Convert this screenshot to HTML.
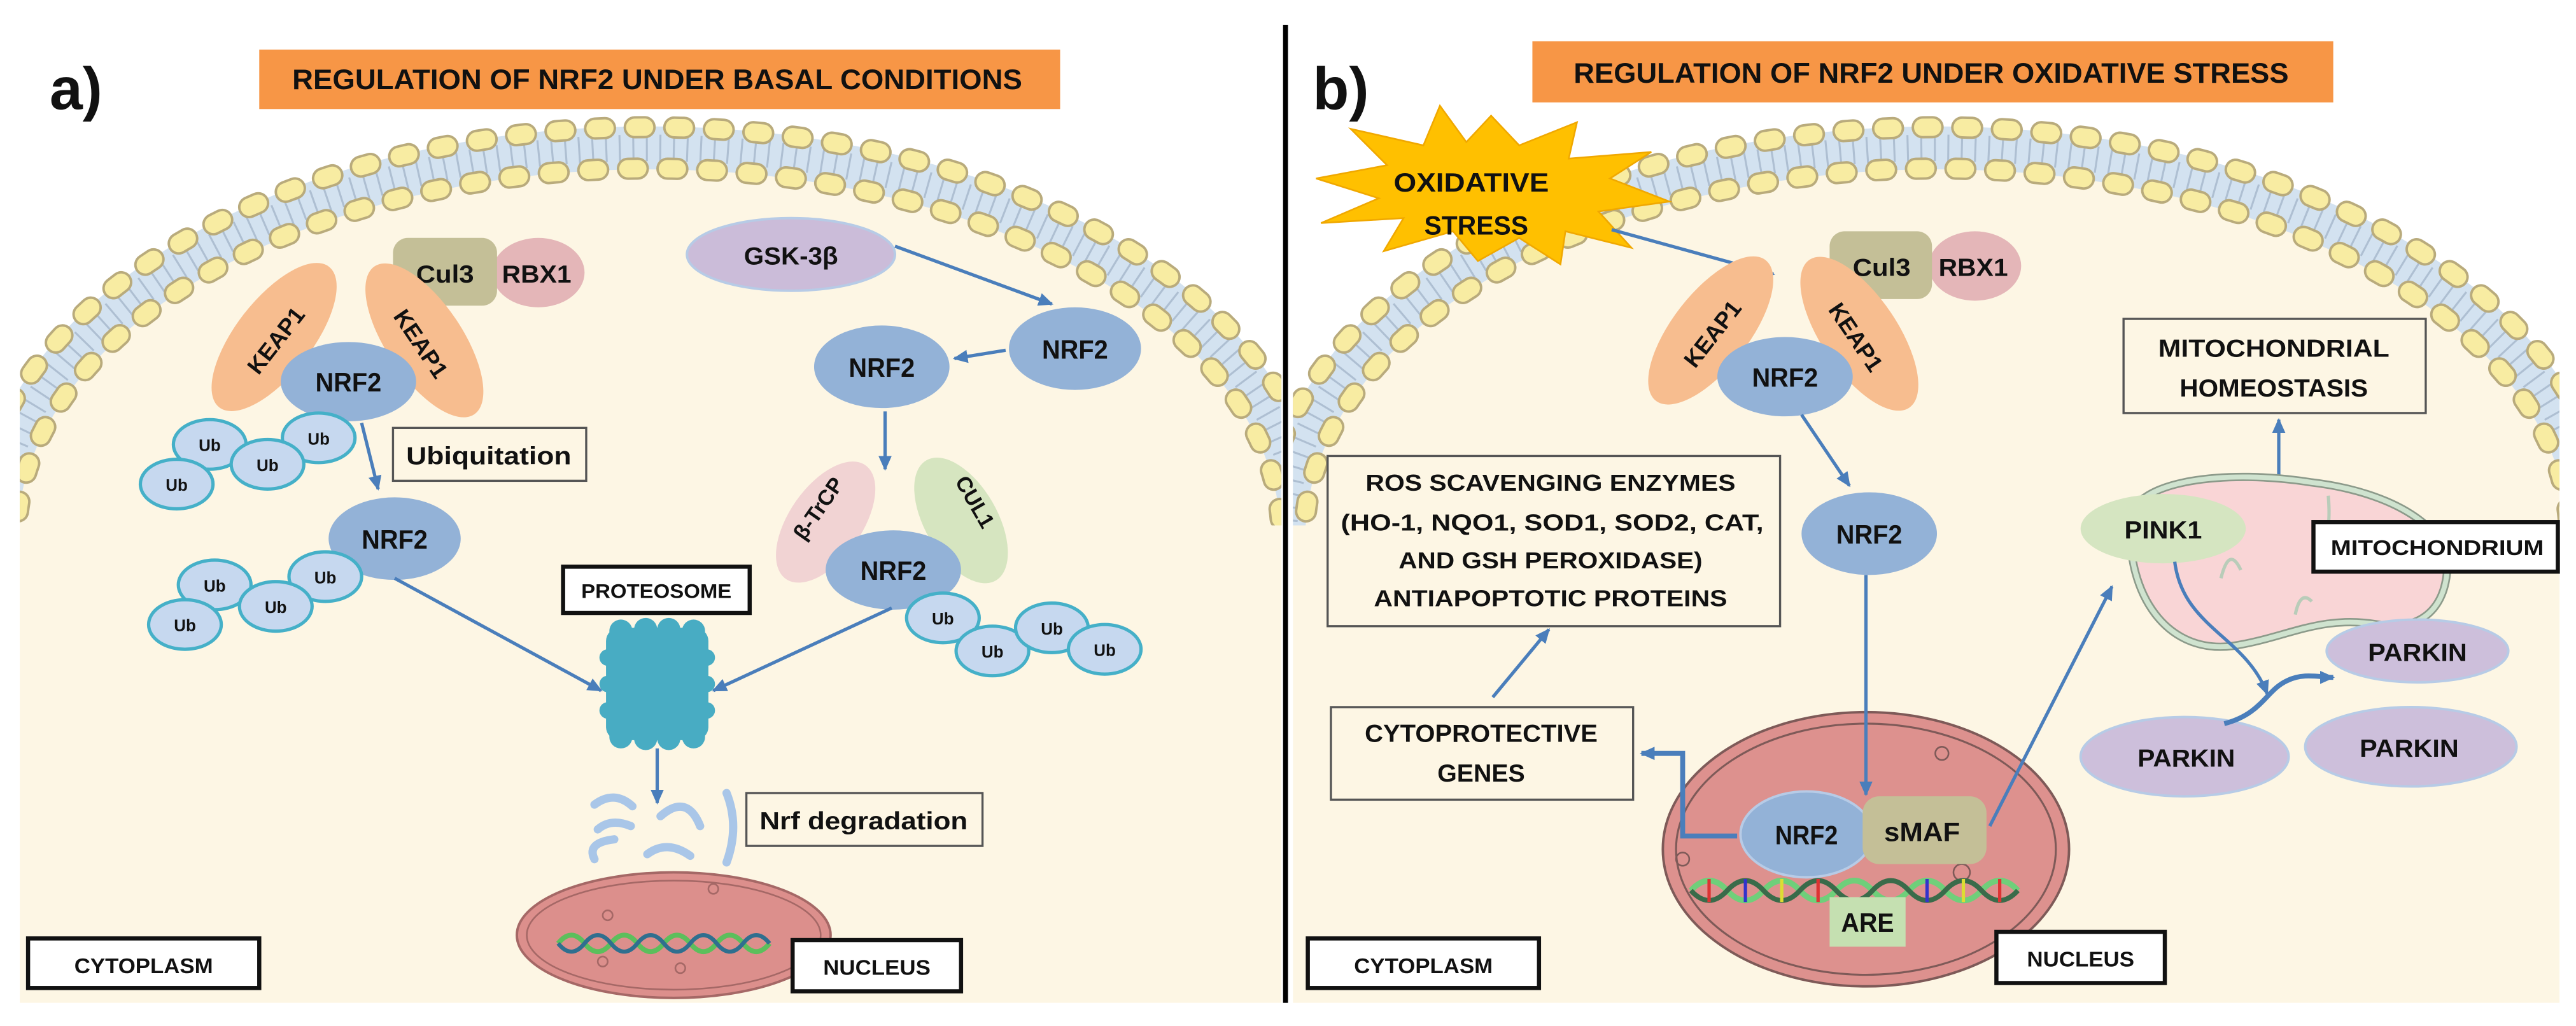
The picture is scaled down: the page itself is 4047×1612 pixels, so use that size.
<!DOCTYPE html>
<html><head><meta charset="utf-8"><style>
html,body{margin:0;padding:0;background:#fff;}
svg{display:block;}
text{font-family:"Liberation Sans",sans-serif;font-weight:bold;fill:#111;}
</style></head><body>
<svg width="4047" height="1612" viewBox="0 0 1560 621" preserveAspectRatio="none" xmlns="http://www.w3.org/2000/svg">
<defs>
<marker id="ah" markerUnits="userSpaceOnUse" markerWidth="10" markerHeight="10" refX="8" refY="5" orient="auto">
<path d="M0,1 L9,5 L0,9 Z" fill="#4a7ebb"/></marker>
<clipPath id="ca"><rect x="12" y="0" width="764" height="607"/></clipPath>
<clipPath id="cb"><rect x="783" y="0" width="767" height="607"/></clipPath>
<clipPath id="ma"><rect x="12" y="0" width="764" height="318"/></clipPath>
<clipPath id="mb"><rect x="783" y="0" width="767" height="318"/></clipPath>
</defs>
<rect width="1560" height="621" fill="#fff"/>

<!-- ============ PANEL A ============ -->
<g clip-path="url(#ca)">
<ellipse cx="393" cy="325" rx="396" ry="236" fill="#fdf6e4"/>
<rect x="0" y="325" width="800" height="290" fill="#fdf6e4"/>
</g>
<g clip-path="url(#ma)" fill="none">
<ellipse cx="393" cy="325" rx="395.5" ry="235.5" stroke="#d3e2f0" stroke-width="26"/>
<ellipse cx="393" cy="325" rx="395.5" ry="235.5" stroke="#aebfd2" stroke-width="16" stroke-dasharray="1.2 7"/>
<ellipse cx="393" cy="325" rx="408" ry="248" stroke="#b9ab7c" stroke-width="13.5" stroke-dasharray="6 18" stroke-linecap="round"/>
<ellipse cx="393" cy="325" rx="408" ry="248" stroke="#f8eca2" stroke-width="10.5" stroke-dasharray="6 18" stroke-linecap="round"/>
<ellipse cx="393" cy="325" rx="383" ry="223" stroke="#b9ab7c" stroke-width="13.5" stroke-dasharray="6 18" stroke-linecap="round"/>
<ellipse cx="393" cy="325" rx="383" ry="223" stroke="#f8eca2" stroke-width="10.5" stroke-dasharray="6 18" stroke-linecap="round"/>
</g>

<text x="30" y="66" font-size="36">a)</text>
<rect x="157" y="30" width="485" height="36" fill="#f79646"/>
<text x="177" y="54" font-size="17" textLength="442" lengthAdjust="spacingAndGlyphs">REGULATION OF NRF2 UNDER BASAL CONDITIONS</text>

<ellipse cx="326" cy="165" rx="28" ry="21" fill="#e4b6b8"/>
<rect x="238" y="144" width="63" height="41" rx="9" fill="#c4bf97"/>
<text x="252" y="171" font-size="15" textLength="35" lengthAdjust="spacingAndGlyphs">Cul3</text>
<text x="304" y="171" font-size="15" textLength="42" lengthAdjust="spacingAndGlyphs">RBX1</text>
<ellipse cx="166" cy="204" rx="54" ry="23" transform="rotate(-52 166 204)" fill="#f7bd8f"/>
<ellipse cx="257" cy="206" rx="54" ry="23" transform="rotate(56 257 206)" fill="#f7bd8f"/>
<text x="167" y="211" font-size="14" text-anchor="middle" transform="rotate(-52 167 206)">KEAP1</text>
<text x="255" y="213" font-size="14" text-anchor="middle" transform="rotate(56 255 208)">KEAP1</text>
<ellipse cx="211" cy="231" rx="41" ry="24" fill="#93b2d7"/>
<text x="211" y="237" font-size="16" text-anchor="middle" textLength="40" lengthAdjust="spacingAndGlyphs">NRF2</text>
<g fill="#c6d8ef" stroke="#45b0c8" stroke-width="2">
<ellipse cx="127" cy="269" rx="22" ry="15"/><ellipse cx="193" cy="265" rx="22" ry="15"/><ellipse cx="162" cy="281" rx="22" ry="15"/><ellipse cx="107" cy="293" rx="22" ry="15"/>
</g>
<g font-size="10" text-anchor="middle"><text x="127" y="273">Ub</text><text x="193" y="269">Ub</text><text x="162" y="285">Ub</text><text x="107" y="297">Ub</text></g>
<rect x="238" y="259" width="117" height="32" fill="#fdf6e4" stroke="#555" stroke-width="1.3"/>
<text x="246" y="281" font-size="15" textLength="100" lengthAdjust="spacingAndGlyphs">Ubiquitation</text>
<line x1="219" y1="256" x2="229" y2="296" stroke="#4a7ebb" stroke-width="2" marker-end="url(#ah)"/>
<ellipse cx="239" cy="326" rx="40" ry="25" fill="#93b2d7"/>
<text x="239" y="332" font-size="16" text-anchor="middle" textLength="40" lengthAdjust="spacingAndGlyphs">NRF2</text>
<g fill="#c6d8ef" stroke="#45b0c8" stroke-width="2">
<ellipse cx="130" cy="354" rx="22" ry="15"/><ellipse cx="197" cy="349" rx="22" ry="15"/><ellipse cx="167" cy="367" rx="22" ry="15"/><ellipse cx="112" cy="378" rx="22" ry="15"/>
</g>
<g font-size="10" text-anchor="middle"><text x="130" y="358">Ub</text><text x="197" y="353">Ub</text><text x="167" y="371">Ub</text><text x="112" y="382">Ub</text></g>
<line x1="239" y1="350" x2="364" y2="418" stroke="#4a7ebb" stroke-width="2" marker-end="url(#ah)"/>
<ellipse cx="479" cy="154" rx="63" ry="22" fill="#cbbcd9" stroke="#b7cbe6" stroke-width="1.5"/>
<text x="479" y="160" font-size="15" text-anchor="middle" textLength="57" lengthAdjust="spacingAndGlyphs">GSK-3β</text>
<line x1="542" y1="149" x2="637" y2="184" stroke="#4a7ebb" stroke-width="2" marker-end="url(#ah)"/>
<ellipse cx="651" cy="211" rx="40" ry="25" fill="#93b2d7"/>
<text x="651" y="217" font-size="16" text-anchor="middle" textLength="40" lengthAdjust="spacingAndGlyphs">NRF2</text>
<line x1="609" y1="212" x2="578" y2="217" stroke="#4a7ebb" stroke-width="2" marker-end="url(#ah)"/>
<ellipse cx="534" cy="222" rx="41" ry="25" fill="#93b2d7"/>
<text x="534" y="228" font-size="16" text-anchor="middle" textLength="40" lengthAdjust="spacingAndGlyphs">NRF2</text>
<line x1="536" y1="249" x2="536" y2="284" stroke="#4a7ebb" stroke-width="2" marker-end="url(#ah)"/>
<ellipse cx="500" cy="316" rx="42" ry="22" transform="rotate(-55 500 316)" fill="#f1d3d3"/>
<ellipse cx="582" cy="315" rx="42" ry="22" transform="rotate(60 582 315)" fill="#d6e5c0"/>
<text x="496" y="312" font-size="13" text-anchor="middle" transform="rotate(-55 496 308)">β-TrCP</text>
<text x="590" y="308" font-size="13" text-anchor="middle" transform="rotate(60 590 304)">CUL1</text>
<ellipse cx="541" cy="345" rx="41" ry="24" fill="#93b2d7"/>
<text x="541" y="351" font-size="16" text-anchor="middle" textLength="40" lengthAdjust="spacingAndGlyphs">NRF2</text>
<g fill="#c6d8ef" stroke="#45b0c8" stroke-width="2">
<ellipse cx="571" cy="374" rx="22" ry="15"/><ellipse cx="601" cy="394" rx="22" ry="15"/><ellipse cx="637" cy="380" rx="22" ry="15"/><ellipse cx="669" cy="393" rx="22" ry="15"/>
</g>
<g font-size="10" text-anchor="middle"><text x="571" y="378">Ub</text><text x="601" y="398">Ub</text><text x="637" y="384">Ub</text><text x="669" y="397">Ub</text></g>
<line x1="540" y1="368" x2="432" y2="418" stroke="#4a7ebb" stroke-width="2" marker-end="url(#ah)"/>
<rect x="341" y="343" width="113" height="28" fill="#fff" stroke="#111" stroke-width="2.5"/>
<text x="397.5" y="362" font-size="12" text-anchor="middle" textLength="91" lengthAdjust="spacingAndGlyphs">PROTEOSOME</text>
<g fill="#48acc3">
<rect x="367" y="380" width="62" height="68" rx="8"/>
<circle cx="376" cy="382" r="7"/><circle cx="391" cy="381" r="7"/><circle cx="405" cy="381" r="7"/><circle cx="420" cy="382" r="7"/>
<circle cx="376" cy="446" r="7"/><circle cx="391" cy="447" r="7"/><circle cx="405" cy="447" r="7"/><circle cx="420" cy="446" r="7"/>
<circle cx="368" cy="398" r="5"/><circle cx="368" cy="414" r="5"/><circle cx="368" cy="430" r="5"/>
<circle cx="428" cy="398" r="5"/><circle cx="428" cy="414" r="5"/><circle cx="428" cy="430" r="5"/>
</g>
<line x1="398" y1="453" x2="398" y2="486" stroke="#4a7ebb" stroke-width="2" marker-end="url(#ah)"/>
<g fill="none" stroke="#a9c6e8" stroke-width="5" stroke-linecap="round">
<path d="M360,487 Q372,478 383,488"/><path d="M362,502 Q370,495 382,500"/><path d="M360,520 Q355,510 372,508"/>
<path d="M392,517 Q404,508 418,518"/><path d="M400,494 Q416,480 424,500"/><path d="M440,480 Q448,500 440,522"/>
</g>
<rect x="452" y="480" width="143" height="32" fill="#fdf6e4" stroke="#555" stroke-width="1.3"/>
<text x="460" y="502" font-size="15" textLength="126" lengthAdjust="spacingAndGlyphs">Nrf degradation</text>
<ellipse cx="408" cy="566" rx="95" ry="38" fill="#dc8f8c" stroke="#a56866" stroke-width="1.5"/>
<ellipse cx="408" cy="566" rx="89" ry="33" fill="none" stroke="#a56866" stroke-width="1"/>
<g fill="none" stroke="#a56866" stroke-width="1"><circle cx="368" cy="554" r="3"/><circle cx="412" cy="586" r="3"/><circle cx="365" cy="582" r="3"/><circle cx="432" cy="538" r="3"/></g>
<path d="M338,571 q8,-10 16,0 t16,0 t16,0 t16,0 t16,0 t16,0 t16,0 t16,0" fill="none" stroke="#5cbf5c" stroke-width="3"/>
<path d="M338,571 q8,10 16,0 t16,0 t16,0 t16,0 t16,0 t16,0 t16,0 t16,0" fill="none" stroke="#2f6f8f" stroke-width="2.5"/>
<rect x="480" y="569" width="102" height="31" fill="#fff" stroke="#111" stroke-width="2.5"/>
<text x="531" y="590" font-size="13" text-anchor="middle" textLength="65" lengthAdjust="spacingAndGlyphs">NUCLEUS</text>
<rect x="17" y="568" width="140" height="30" fill="#fff" stroke="#111" stroke-width="2.5"/>
<text x="87" y="589" font-size="13" text-anchor="middle" textLength="84" lengthAdjust="spacingAndGlyphs">CYTOPLASM</text>

<rect x="777" y="15" width="3" height="592" fill="#000"/>

<!-- ============ PANEL B ============ -->
<g clip-path="url(#cb)">
<ellipse cx="1173" cy="325" rx="396" ry="236" fill="#fdf6e4"/>
<rect x="780" y="325" width="800" height="290" fill="#fdf6e4"/>
</g>
<g clip-path="url(#mb)" fill="none">
<ellipse cx="1173" cy="325" rx="395.5" ry="235.5" stroke="#d3e2f0" stroke-width="26"/>
<ellipse cx="1173" cy="325" rx="395.5" ry="235.5" stroke="#aebfd2" stroke-width="16" stroke-dasharray="1.2 7"/>
<ellipse cx="1173" cy="325" rx="408" ry="248" stroke="#b9ab7c" stroke-width="13.5" stroke-dasharray="6 18" stroke-linecap="round"/>
<ellipse cx="1173" cy="325" rx="408" ry="248" stroke="#f8eca2" stroke-width="10.5" stroke-dasharray="6 18" stroke-linecap="round"/>
<ellipse cx="1173" cy="325" rx="383" ry="223" stroke="#b9ab7c" stroke-width="13.5" stroke-dasharray="6 18" stroke-linecap="round"/>
<ellipse cx="1173" cy="325" rx="383" ry="223" stroke="#f8eca2" stroke-width="10.5" stroke-dasharray="6 18" stroke-linecap="round"/>
</g>

<text x="795" y="66" font-size="36">b)</text>
<rect x="928" y="25" width="485" height="37" fill="#f79646"/>
<text x="953" y="50" font-size="17" textLength="433" lengthAdjust="spacingAndGlyphs">REGULATION OF NRF2 UNDER OXIDATIVE STRESS</text>

<polygon points="903,70 920,88 955,74 950,96 1000,92 975,108 1011,122 968,128 988,150 948,140 945,160 920,144 895,158 880,140 838,152 850,132 800,135 835,120 797,108 840,100 818,78 862,88 872,64 888,86" fill="#ffc000" stroke="#f0a800" stroke-width="1"/>
<text x="891" y="116" font-size="16" text-anchor="middle" textLength="94" lengthAdjust="spacingAndGlyphs">OXIDATIVE</text>
<text x="894" y="142" font-size="16" text-anchor="middle" textLength="63" lengthAdjust="spacingAndGlyphs">STRESS</text>
<line x1="976" y1="139" x2="1074" y2="166" stroke="#4a7ebb" stroke-width="2" marker-end="url(#ah)"/>

<ellipse cx="1196" cy="161" rx="28" ry="21" fill="#e4b6b8"/>
<rect x="1108" y="140" width="62" height="41" rx="9" fill="#c4bf97"/>
<text x="1122" y="167" font-size="15" textLength="35" lengthAdjust="spacingAndGlyphs">Cul3</text>
<text x="1174" y="167" font-size="15" textLength="42" lengthAdjust="spacingAndGlyphs">RBX1</text>
<ellipse cx="1036" cy="200" rx="54" ry="23" transform="rotate(-52 1036 200)" fill="#f7bd8f"/>
<ellipse cx="1126" cy="202" rx="54" ry="23" transform="rotate(56 1126 202)" fill="#f7bd8f"/>
<text x="1037" y="207" font-size="14" text-anchor="middle" transform="rotate(-52 1037 202)">KEAP1</text>
<text x="1124" y="209" font-size="14" text-anchor="middle" transform="rotate(56 1124 204)">KEAP1</text>
<ellipse cx="1081" cy="228" rx="41" ry="24" fill="#93b2d7"/>
<text x="1081" y="234" font-size="16" text-anchor="middle" textLength="40" lengthAdjust="spacingAndGlyphs">NRF2</text>
<line x1="1091" y1="251" x2="1120" y2="294" stroke="#4a7ebb" stroke-width="2" marker-end="url(#ah)"/>
<ellipse cx="1132" cy="323" rx="41" ry="25" fill="#93b2d7"/>
<text x="1132" y="329" font-size="16" text-anchor="middle" textLength="40" lengthAdjust="spacingAndGlyphs">NRF2</text>

<rect x="1286" y="193" width="183" height="57" fill="#fdf6e4" stroke="#555" stroke-width="1.3"/>
<text x="1377" y="216" font-size="15" text-anchor="middle" textLength="140" lengthAdjust="spacingAndGlyphs">MITOCHONDRIAL</text>
<text x="1377" y="240" font-size="15" text-anchor="middle" textLength="114" lengthAdjust="spacingAndGlyphs">HOMEOSTASIS</text>
<line x1="1380" y1="291" x2="1380" y2="254" stroke="#4a7ebb" stroke-width="2" marker-end="url(#ah)"/>
<rect x="804" y="276" width="274" height="103" fill="#fdf6e4" stroke="#555" stroke-width="1.3"/>
<g font-size="14" text-anchor="middle">
<text x="939" y="297" textLength="224" lengthAdjust="spacingAndGlyphs">ROS SCAVENGING ENZYMES</text>
<text x="940" y="321" textLength="256" lengthAdjust="spacingAndGlyphs">(HO-1, NQO1, SOD1, SOD2, CAT,</text>
<text x="939" y="344" textLength="184" lengthAdjust="spacingAndGlyphs">AND GSH PEROXIDASE)</text>
<text x="939" y="367" textLength="214" lengthAdjust="spacingAndGlyphs">ANTIAPOPTOTIC PROTEINS</text>
</g>
<rect x="806" y="428" width="183" height="56" fill="#fdf6e4" stroke="#555" stroke-width="1.3"/>
<text x="897" y="449" font-size="15" text-anchor="middle" textLength="141" lengthAdjust="spacingAndGlyphs">CYTOPROTECTIVE</text>
<text x="897" y="473" font-size="15" text-anchor="middle" textLength="53" lengthAdjust="spacingAndGlyphs">GENES</text>
<line x1="904" y1="422" x2="938" y2="381" stroke="#4a7ebb" stroke-width="2" marker-end="url(#ah)"/>

<path d="M1290,315 C1292,290 1350,284 1400,292 C1450,298 1484,320 1482,345 C1480,372 1462,382 1440,378 C1405,372 1385,386 1352,391 C1312,396 1288,360 1290,315 Z" fill="#f9d5d6" stroke="#8c9a8a" stroke-width="5"/>
<path d="M1290,315 C1292,290 1350,284 1400,292 C1450,298 1484,320 1482,345 C1480,372 1462,382 1440,378 C1405,372 1385,386 1352,391 C1312,396 1288,360 1290,315 Z" fill="none" stroke="#cfe3cf" stroke-width="3"/>
<g fill="none" stroke="#b9ccb9" stroke-width="2"><path d="M1345,350 q5,-20 12,-5"/><path d="M1390,372 q3,-15 10,-8"/><path d="M1410,300 q2,25 -5,30"/></g>
<ellipse cx="1310" cy="320" rx="50" ry="21" fill="#d5e5c1"/>
<text x="1310" y="326" font-size="15" text-anchor="middle" textLength="47" lengthAdjust="spacingAndGlyphs">PINK1</text>
<rect x="1401" y="316" width="148" height="30" fill="#fff" stroke="#111" stroke-width="2.5"/>
<text x="1476" y="336" font-size="13" text-anchor="middle" textLength="129" lengthAdjust="spacingAndGlyphs">MITOCHONDRIUM</text>
<ellipse cx="1464" cy="394" rx="55" ry="19" fill="#cdbfdb" stroke="#b7cbe6" stroke-width="1.5"/>
<text x="1464" y="400" font-size="15" text-anchor="middle" textLength="60" lengthAdjust="spacingAndGlyphs">PARKIN</text>
<ellipse cx="1323" cy="458" rx="63" ry="24" fill="#cdbfdb" stroke="#b7cbe6" stroke-width="1.5"/>
<text x="1324" y="464" font-size="15" text-anchor="middle" textLength="59" lengthAdjust="spacingAndGlyphs">PARKIN</text>
<ellipse cx="1460" cy="452" rx="64" ry="24" fill="#cdbfdb" stroke="#b7cbe6" stroke-width="1.5"/>
<text x="1459" y="458" font-size="15" text-anchor="middle" textLength="60" lengthAdjust="spacingAndGlyphs">PARKIN</text>
<path d="M1317,340 C1322,380 1360,385 1373,420" fill="none" stroke="#4a7ebb" stroke-width="2" marker-end="url(#ah)"/>
<path d="M1347,438 C1370,432 1372,418 1385,412 C1395,407 1405,410 1413,410" fill="none" stroke="#4a7ebb" stroke-width="3" marker-end="url(#ah)"/>

<ellipse cx="1130" cy="514" rx="123" ry="83" fill="#dd918e" stroke="#7e5a58" stroke-width="1.5"/>
<ellipse cx="1130" cy="514" rx="115" ry="76" fill="none" stroke="#7e5a58" stroke-width="1.2"/>
<g fill="none" stroke="#7e5a58" stroke-width="1"><circle cx="1176" cy="456" r="4"/><circle cx="1019" cy="520" r="4"/><circle cx="1188" cy="528" r="5"/></g>
<line x1="1130" y1="348" x2="1130" y2="481" stroke="#4a7ebb" stroke-width="2" marker-end="url(#ah)"/>
<path d="M1024,533 q11,-12 22,0 t22,0 t22,0 t22,0 t22,0 t22,0 t22,0 t22,0 t22,0" fill="none" stroke="#6fcf7a" stroke-width="3.5" transform="translate(0,6)"/>
<path d="M1024,539 q11,12 22,0 t22,0 t22,0 t22,0 t22,0 t22,0 t22,0 t22,0 t22,0" fill="none" stroke="#3a6b4a" stroke-width="3"/>
<g stroke-width="2"><line x1="1035" y1="532" x2="1035" y2="546" stroke="#d33"/><line x1="1057" y1="532" x2="1057" y2="546" stroke="#33c"/><line x1="1079" y1="532" x2="1079" y2="546" stroke="#dd3"/><line x1="1101" y1="532" x2="1101" y2="546" stroke="#d33"/><line x1="1167" y1="532" x2="1167" y2="546" stroke="#33c"/><line x1="1189" y1="532" x2="1189" y2="546" stroke="#dd3"/><line x1="1211" y1="532" x2="1211" y2="546" stroke="#d33"/></g>
<rect x="1108" y="543" width="46" height="30" fill="#c5e0b1"/>
<text x="1131" y="564" font-size="16" text-anchor="middle" textLength="32" lengthAdjust="spacingAndGlyphs">ARE</text>
<ellipse cx="1094" cy="505" rx="40" ry="26" fill="#93b2d7" stroke="#b7cbe6" stroke-width="1.5"/>
<rect x="1128" y="482" width="75" height="41" rx="10" fill="#c4bf97"/>
<text x="1094" y="511" font-size="16" text-anchor="middle" textLength="38" lengthAdjust="spacingAndGlyphs">NRF2</text>
<text x="1164" y="509" font-size="16" text-anchor="middle" textLength="46" lengthAdjust="spacingAndGlyphs">sMAF</text>
<polyline points="1052,506 1019,506 1019,456 994,456" fill="none" stroke="#4a7ebb" stroke-width="3" marker-end="url(#ah)"/>
<line x1="1205" y1="500" x2="1279" y2="355" stroke="#4a7ebb" stroke-width="2" marker-end="url(#ah)"/>

<rect x="1209" y="564" width="102" height="31" fill="#fff" stroke="#111" stroke-width="2.5"/>
<text x="1260" y="585" font-size="13" text-anchor="middle" textLength="65" lengthAdjust="spacingAndGlyphs">NUCLEUS</text>
<rect x="792" y="568" width="140" height="30" fill="#fff" stroke="#111" stroke-width="2.5"/>
<text x="862" y="589" font-size="13" text-anchor="middle" textLength="84" lengthAdjust="spacingAndGlyphs">CYTOPLASM</text>
</svg>
</body></html>
